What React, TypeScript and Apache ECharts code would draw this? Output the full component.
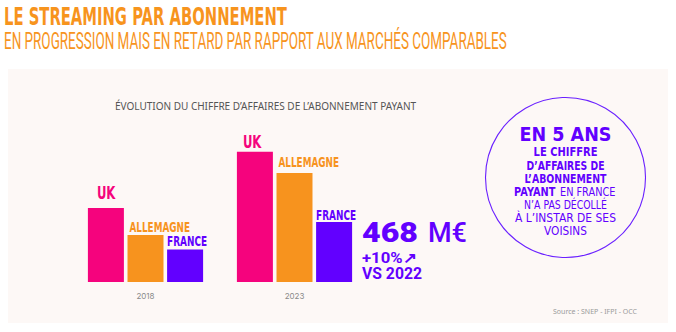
import React, { useEffect, useRef } from "react";
import * as echarts from "echarts";

const years = ["2018", "2023"];
const seriesNames = ["UK", "ALLEMAGNE", "FRANCE"];
const ukValues = [577, 1014];
const deValues = [367, 850];
const frValues = [254, 468];
const colors = ["#F5037D", "#F7931E", "#6200FF"];

const title = "LE STREAMING PAR ABONNEMENT";
const subtitle = "EN PROGRESSION MAIS EN RETARD PAR RAPPORT AUX MARCHÉS COMPARABLES";
const chartTitle = "ÉVOLUTION DU CHIFFRE D’AFFAIRES DE L’ABONNEMENT PAYANT";
const source = "Source : SNEP - IFPI - OCC";
const kpiValue = "468";
const kpiUnit = "M€";
const kpiChange = "+10%↗";
const kpiRef = "VS 2022";
const circleLines = [
  { t: "EN 5 ANS", w: 92, y: 134, big: true, bold: true },
  { t: "LE CHIFFRE", w: 64, y: 152.6, bold: true },
  { t: "D’AFFAIRES DE", w: 78, y: 165.8, bold: true },
  { t: "L’ABONNEMENT", w: 82, y: 178.9, bold: true },
  { t: "N’A PAS DÉCOLLÉ", w: 83, y: 204.8, bold: false },
  { t: "À L’INSTAR DE SES", w: 101, y: 217.8, bold: false },
  { t: "VOISINS", w: 43, y: 230.6, bold: false },
];

const PURPLE = "#6200FF";
const ORANGE = "#F7941D";
const DJ = "'DejaVu Sans', sans-serif";

let ctx: CanvasRenderingContext2D | null = null;
function measure(text: string, font: string) {
  if (!ctx) ctx = document.createElement("canvas").getContext("2d");
  ctx!.font = font;
  return ctx!.measureText(text).width || 1;
}
function fitText(text: string, font: string, fill: string, x: number, yc: number, width: number, align = "left") {
  return {
    type: "text",
    x,
    y: yc,
    scaleX: width / measure(text, font),
    style: { text, font, fill, align, verticalAlign: "middle" },
  };
}

export default function App() {
  const ref = useRef<HTMLDivElement>(null);
  useEffect(() => {
    if (!ref.current) return;
    const chart = echarts.init(ref.current, null, { renderer: "svg" });
    const all = [ukValues, deValues, frValues];
    const option: any = {
      animation: false,
      backgroundColor: "#ffffff",
      grid: { left: 71, right: 307, top: 128, bottom: 50 },
      xAxis: {
        type: "category",
        data: years,
        axisLine: { show: false },
        axisTick: { show: false },
        axisLabel: { color: "#8a8a8a", fontSize: 8, margin: 10, fontFamily: "Inter, sans-serif" },
      },
      yAxis: { type: "value", min: 0, max: 1200, show: false, splitLine: { show: false } },
      series: seriesNames.map((name, i) => ({
        type: "bar",
        name,
        data: all[i],
        barWidth: 36,
        barGap: "10%",
        barCategoryGap: "23%",
        itemStyle: { color: colors[i] },
      })),
    };
    chart.setOption(option);

    // bar labels placed from the library's own bar layout
    const labelFonts = [`bold 18px ${DJ}`, `bold 13.5px ${DJ}`, `bold 13.5px ${DJ}`];
    const labelWidths = [18.5, 60.5, 40];
    const labelDx = [[9, 6], [2, 2], [0, 0]];
    const labelGap = [[8, 3.5], [3, 6], [3, 2]];
    const labelCap = [13, 9.5, 10];
    const barLabels: any[] = [];
    const model: any = (chart as any).getModel();
    seriesNames.forEach((name, i) => {
      const data = model.getSeriesByIndex(i).getData();
      all[i].forEach((_, j) => {
        const l = data.getItemLayout(j);
        const top = Math.min(l.y, l.y + l.height);
        barLabels.push(
          fitText(name, labelFonts[i], colors[i], l.x + labelDx[i][j], top - labelGap[i][j] - labelCap[i] / 2, labelWidths[i])
        );
      });
    });

    const circleText: any[] = circleLines.map((c) =>
      fitText(
        c.t,
        c.big ? `bold 19px ${DJ}` : `${c.bold ? "bold" : "normal"} 12.5px ${DJ}`,
        PURPLE,
        565.5,
        c.y,
        c.w,
        "center"
      )
    );
    circleText.push(fitText("PAYANT", `bold 12.5px ${DJ}`, PURPLE, 514, 192, 41.5));
    circleText.push(fitText("EN FRANCE", `normal 12.5px ${DJ}`, PURPLE, 560, 192, 55.5));

    chart.setOption({
      graphic: [
        { type: "rect", z: -100, shape: { x: 8, y: 69, width: 660, height: 254 }, style: { fill: "#FDF8F6" } },
        fitText(title, `bold 24px ${DJ}`, ORANGE, 4, 17.5, 283),
        fitText(subtitle, "normal 23.5px Roboto, sans-serif", ORANGE, 4, 40.7, 503),
        fitText(chartTitle, "normal 10px 'Noto Sans', sans-serif", "#555555", 115, 105.5, 301),
        fitText(source, "normal 7px 'Noto Sans', sans-serif", "#9a9a9a", 553, 312, 84),
        fitText(kpiValue, "900 28px Roboto, sans-serif", PURPLE, 362, 232, 56),
        fitText(kpiUnit, "500 28px Roboto, sans-serif", PURPLE, 428, 232, 39),
        fitText(kpiChange, "bold 15px Roboto, sans-serif", PURPLE, 362, 258, 55),
        fitText(kpiRef, "bold 16px Roboto, sans-serif", PURPLE, 362, 273.2, 60),
        { type: "circle", shape: { cx: 565.5, cy: 177.5, r: 80 }, style: { fill: "none", stroke: "#6a20ff", lineWidth: 1.1 } },
        ...circleText,
        ...barLabels,
      ],
    });
    return () => chart.dispose();
  }, []);
  return <div ref={ref} style={{ position: "absolute", left: 0, top: 0, width: 676, height: 332 }} />;
}
